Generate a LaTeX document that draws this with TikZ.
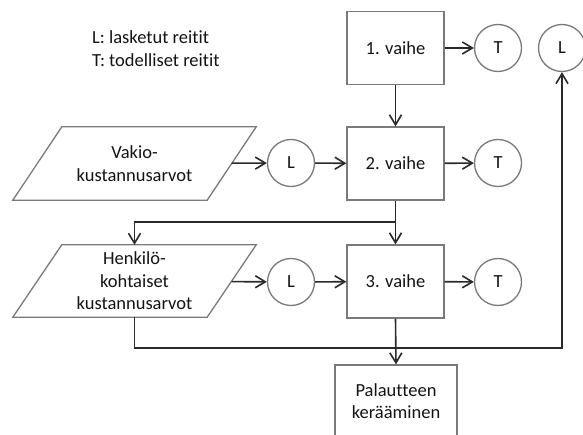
\documentclass[tikz,border=0pt]{standalone}
\usepackage{fontspec}
\setmainfont{Carlito}[Ligatures={NoCommon}]
\usetikzlibrary{arrows.meta,calc}
\definecolor{txt}{HTML}{141414}
\definecolor{edge}{HTML}{7A7A7A}
\definecolor{conn}{HTML}{2A2A2A}
\begin{document}
\begin{tikzpicture}[x=1pt,y=-1pt,
  every node/.style={font=\fontsize{18.5}{22.5}\selectfont, text=txt},
  stepbox/.style={draw=edge, line width=1.3pt, minimum width=97pt, minimum height=73pt, inner sep=0pt, align=center},
  circ/.style={circle, draw=edge, line width=1.3pt, minimum size=47pt, inner sep=0pt},
  para/.style={minimum width=194pt, minimum height=73pt, inner sep=0pt, align=center},
  conn/.style={draw=conn, line width=1.6pt, -{Straight Barb[length=10pt,width=12pt]}},
  plain/.style={draw=conn, line width=1.6pt}
]
\useasboundingbox (0,0) rectangle (583,435);
\clip (0,0) rectangle (583,435);
\fill[white] (0,0) rectangle (583,435);

% legend
\node[anchor=west, align=left, inner sep=0pt] (leg) at (92,48.5) {L: lasketut reitit\\T: todelliset reitit};

% step boxes
\node[stepbox] (b1) at (395.5,48) {1. vaihe};
\node[stepbox] (b2) at (395.5,163.5) {2. vaihe};
\node[stepbox] (b3) at (395.5,281.5) {3. vaihe};
\node[stepbox, minimum width=122pt, minimum height=72pt] (pal) at (396,401) {Palautteen\\kerääminen};

% circles
\node[circ] (t1) at (498,48) {T};
\node[circ] (lt) at (562,48) {L};
\node[circ] (l2) at (291,163) {L};
\node[circ] (t2) at (498,163) {T};
\node[circ] (l3) at (291,282) {L};
\node[circ] (t3) at (498,282) {T};

% parallelograms
\node[para] (vak) at (134.5,163.5) {Vakio-\\kustannusarvot};
\node[para, minimum height=72pt] (hen) at (134.5,281) {Henkilö-\\kohtaiset\\kustannusarvot};
\foreach \p in {vak,hen}{
  \draw[edge, line width=1.3pt]
    ($(\p.north west)+(24.5,0)$) -- ($(\p.north east)+(24.5,0)$) --
    ($(\p.south east)+(-24.5,0)$) -- ($(\p.south west)+(-24.5,0)$) -- cycle;
}

% connectors
\draw[conn] (b1) -- (t1);
\draw[conn] (b1) -- (b2);
\draw[conn] (vak) -- (l2);
\draw[conn] (l2) -- (b2);
\draw[conn] (b2) -- (t2);
\coordinate (br) at (395.5,222);
\draw[plain] (b2.south) -- (br);
\draw[conn] (br) -- (b3.north);
\draw[conn] (br) -| (hen.north);
\draw[conn] (hen) -- (l3);
\draw[conn] (l3) -- (b3);
\draw[conn] (b3) -- (t3);
\coordinate (bl) at (134.5,348);
\coordinate (brr) at (562,348);
\draw[conn] (hen.south) -- (bl) -- (brr) -- (lt.south);
\draw[conn] (b3.south) -- (pal.north);
\end{tikzpicture}
\end{document}
